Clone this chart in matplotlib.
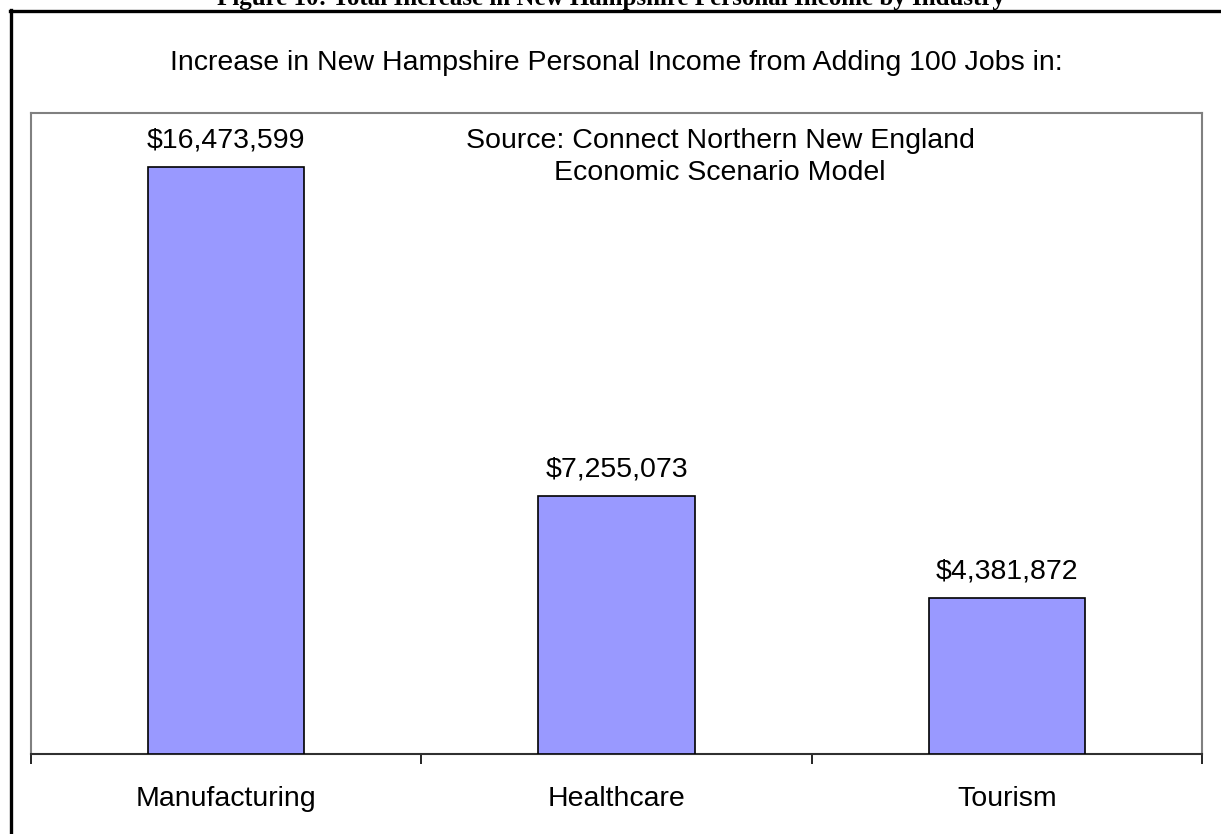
import matplotlib
matplotlib.use("Agg")
import matplotlib.pyplot as plt
from matplotlib.lines import Line2D

categories = ["Manufacturing", "Healthcare", "Tourism"]
values = [16473599, 7255073, 4381872]
value_labels = ["$16,473,599", "$7,255,073", "$4,381,872"]
fig_title = "Figure 10: Total Increase in New Hampshire Personal Income by Industry"
chart_title = "Increase in New Hampshire Personal Income from Adding 100 Jobs in:"
source_text = "Source: Connect Northern New England\nEconomic Scenario Model"

W, H = 1221, 834
fig = plt.figure(figsize=(W / 100, H / 100), dpi=100)
plt.rcParams['font.family'] = ['Liberation Sans', 'DejaVu Sans']
FS = 20.5

def fx(x):
    return x / W

def fy(y):
    return 1 - y / H

# outer frame (left and top lines)
fig.add_artist(Line2D([fx(11), fx(11)], [fy(10), 0], color='black', lw=2.4))
fig.add_artist(Line2D([fx(10), 1], [fy(11), fy(11)], color='black', lw=2.4))

# figure title, clipped at top as in the source page
fig.text(0.5, fy(5), fig_title, ha='center', va='baseline',
         family=['Liberation Serif', 'DejaVu Serif'], fontweight='bold', fontsize=18)

fig.text(fx(616), fy(63), chart_title, ha='center', va='center', fontsize=FS)

ax = fig.add_axes([fx(31), fy(754), fx(1202) - fx(31), (754 - 113) / H])
x = list(range(len(categories)))
ax.bar(x, values, width=0.4, color='#9999FF', edgecolor='black', linewidth=1.2, zorder=3)
ax.set_xlim(-0.5, len(categories) - 0.5)
ax.set_ylim(0, 18000000)
ax.set_yticks([])
ax.set_xticks([i - 0.5 for i in range(len(categories) + 1)])
ax.set_xticklabels([])
ax.tick_params(axis='x', length=7, width=1.2, color='black', direction='out')
for s in ['left', 'top', 'right']:
    ax.spines[s].set_color('#808080')
    ax.spines[s].set_linewidth(1.5)
ax.spines['bottom'].set_color('#303030')
ax.spines['bottom'].set_linewidth(1.5)

for i, (v, lab) in enumerate(zip(values, value_labels)):
    ax.annotate(lab, (i, v), xytext=(0, 19), textcoords='offset points',
                ha='center', va='center', fontsize=FS)

for i, c in enumerate(categories):
    ax.annotate(c, (i, 0), xytext=(0, -32.5), textcoords='offset points',
                ha='center', va='center', fontsize=FS, annotation_clip=False)

ax.text((720 - 31) / (1202 - 31), (754 - 157) / (754 - 113), source_text,
        transform=ax.transAxes, ha='center', va='center', fontsize=FS,
        linespacing=1.3)

fig.savefig("out.png", dpi=100)
